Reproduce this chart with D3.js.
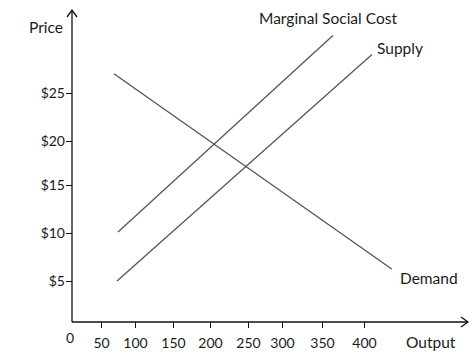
<!DOCTYPE html>
<html>
<head>
<meta charset="utf-8">
<script src="https://cdn.jsdelivr.net/npm/d3@7"></script>
<style>
    body { margin: 0; background: #fff; }
    svg text { font-family: Lato, "Open Sans", sans-serif; fill: #1a1a1a; }
</style>
</head>
<body>
<div id="chart"></div>
<script>
// data
let xTicks = [0, 50, 100, 150, 200, 250, 300, 350, 400];
let yTicks = [5, 10, 15, 20, 25];
let demand = [{q: 69, p: 27.0}, {q: 433, p: 6.25}];
let supply = [{q: 73.5, p: 5.0}, {q: 409.5, p: 29.0}];
let msc = [{q: 75, p: 10.1}, {q: 363, p: 31.0}];

let width = 474, height = 353;

let svg = d3.select("#chart").append("svg")
    .attr("width", width)
    .attr("height", height);

// the hand drawn axis has uneven tick spacing, so use piecewise scales
let x = d3.scaleLinear()
    .domain(xTicks)
    .range([72, 101, 135, 173, 210, 248, 282, 322, 364]);
let y = d3.scaleLinear()
    .domain([0].concat(yTicks))
    .range([322, 281, 233, 185, 141, 93]);

let axisColor = "#111";
let tickFont = "14px";
let labelFont = "15.5px";

// x axis
let xAxis = svg.append("g")
    .attr("transform", "translate(0," + y(0) + ")")
    .call(d3.axisBottom(x).tickValues(xTicks.slice(1)).tickSize(6).tickPadding(10));
xAxis.select(".domain").remove();
xAxis.selectAll("line").attr("stroke", axisColor);
xAxis.selectAll("text").style("font-size", tickFont).attr("fill", "#1a1a1a");

svg.append("text")
    .attr("x", 70)
    .attr("y", 343)
    .attr("text-anchor", "middle")
    .style("font-size", tickFont)
    .text("0");

// y axis
let yAxis = svg.append("g")
    .attr("transform", "translate(" + x(0) + ",0)")
    .call(d3.axisLeft(y).tickValues(yTicks).tickSize(6).tickPadding(1).tickFormat(d => "$" + d));
yAxis.select(".domain").remove();
yAxis.selectAll("line").attr("stroke", axisColor);
yAxis.selectAll("text").style("font-size", tickFont).attr("fill", "#1a1a1a");

// axis lines with open arrow heads
svg.append("line")
    .attr("x1", x(0)).attr("y1", y(0))
    .attr("x2", 468).attr("y2", y(0))
    .attr("stroke", axisColor).attr("stroke-width", 1.3);
svg.append("path")
    .attr("d", "M461," + (y(0) - 5) + "L468," + y(0) + "L461," + (y(0) + 5))
    .attr("fill", "none").attr("stroke", axisColor).attr("stroke-width", 1.3);

svg.append("line")
    .attr("x1", x(0)).attr("y1", y(0))
    .attr("x2", x(0)).attr("y2", 10)
    .attr("stroke", axisColor).attr("stroke-width", 1.3);
svg.append("path")
    .attr("d", "M" + (x(0) - 5) + ",17L" + x(0) + ",10L" + (x(0) + 5) + ",17")
    .attr("fill", "none").attr("stroke", axisColor).attr("stroke-width", 1.3);

// curves
let line = d3.line()
    .x(d => x(d.q))
    .y(d => y(d.p));

[demand, supply, msc].forEach(series => {
    svg.append("path")
        .datum(series)
        .attr("d", line)
        .attr("fill", "none")
        .attr("stroke", "#555")
        .attr("stroke-width", 1.3);
});

// labels
svg.append("text").attr("x", 29).attr("y", 33).style("font-size", labelFont).text("Price");
svg.append("text").attr("x", 406).attr("y", 348).style("font-size", labelFont).text("Output");
svg.append("text").attr("x", 259).attr("y", 24).style("font-size", labelFont).text("Marginal Social Cost");
svg.append("text").attr("x", 377).attr("y", 54).style("font-size", labelFont).text("Supply");
svg.append("text").attr("x", 400).attr("y", 284).style("font-size", labelFont).text("Demand");
</script>
</body>
</html>
